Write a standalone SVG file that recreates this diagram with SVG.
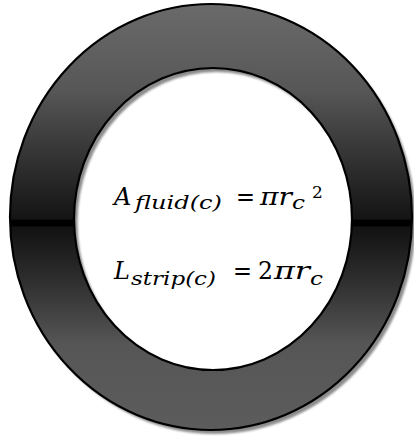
<svg xmlns="http://www.w3.org/2000/svg" width="414" height="442" viewBox="0 0 414 442">
  <defs>
    <linearGradient id="ringGrad" gradientUnits="userSpaceOnUse" x1="0" y1="4" x2="0" y2="430">
      <stop offset="0" stop-color="#6a6a6a"/>
      <stop offset="0.2" stop-color="#575757"/>
      <stop offset="0.4" stop-color="#2a2a2a"/>
      <stop offset="0.505" stop-color="#141414"/>
      <stop offset="0.508" stop-color="#000000"/>
      <stop offset="0.52" stop-color="#000000"/>
      <stop offset="0.524" stop-color="#121212"/>
      <stop offset="0.64" stop-color="#2c2c2c"/>
      <stop offset="0.8" stop-color="#565656"/>
      <stop offset="1" stop-color="#5c5c5c"/>
    </linearGradient>
    <filter id="blur" x="-5%" y="-5%" width="110%" height="110%">
      <feGaussianBlur stdDeviation="1.3"/>
    </filter>
  </defs>
  <style>
    .math { font-family: "DejaVu Serif", "Liberation Serif", serif; fill: #000; }
    .it { font-style: italic; }
    .big { font-size: 24px; }
    .sub { font-size: 19px; }
    .sup { font-size: 17px; }
  </style>
  <rect width="414" height="442" fill="#ffffff"/>
  <g id="ring">
    <path transform="translate(3.5,4)" filter="url(#blur)" fill="#8c8c8c" fill-rule="evenodd"
      d="M10,217 a201,213 0 1,0 402,0 a201,213 0 1,0 -402,0 Z M74,219 a139,151 0 1,0 278,0 a139,151 0 1,0 -278,0 Z"/>
    <path fill="url(#ringGrad)" fill-rule="evenodd" stroke="#000" stroke-width="2.2"
      d="M10,217 a201,213 0 1,0 402,0 a201,213 0 1,0 -402,0 Z M74,219 a139,151 0 1,0 278,0 a139,151 0 1,0 -278,0 Z"/>
  </g>
  <g id="formulas">
    <text class="math big" y="205"><tspan class="it" x="114">A</tspan><tspan class="it sub" x="135" y="209" textLength="87" lengthAdjust="spacingAndGlyphs">fluid(c)</tspan><tspan x="236" y="205" textLength="19" lengthAdjust="spacingAndGlyphs">=</tspan><tspan class="it" x="260" textLength="32" lengthAdjust="spacingAndGlyphs">πr</tspan><tspan class="it sub" x="292" y="209" textLength="13" lengthAdjust="spacingAndGlyphs">c</tspan><tspan class="sup" x="312" y="198">2</tspan></text>
    <text class="math big" y="279"><tspan class="it" x="114">L</tspan><tspan class="it sub" x="131" y="285" textLength="85" lengthAdjust="spacingAndGlyphs">strip(c)</tspan><tspan x="233" y="279" textLength="19" lengthAdjust="spacingAndGlyphs">=</tspan><tspan x="258" textLength="15" lengthAdjust="spacingAndGlyphs">2</tspan><tspan class="it" x="274" textLength="36" lengthAdjust="spacingAndGlyphs">πr</tspan><tspan class="it sub" x="310" y="285" textLength="13" lengthAdjust="spacingAndGlyphs">c</tspan></text>
  </g>
</svg>
